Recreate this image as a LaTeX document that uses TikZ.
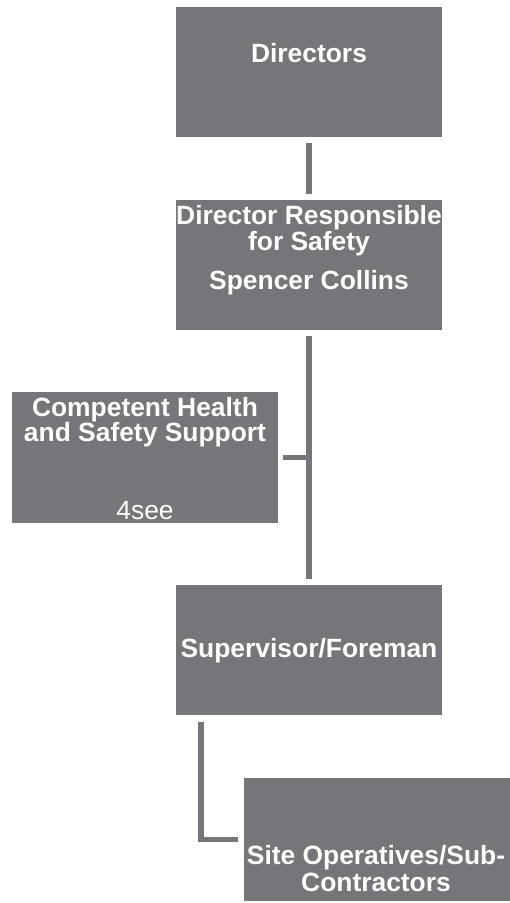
\documentclass[tikz,border=0pt]{standalone}
\usepackage{fontspec}
\setmainfont{Liberation Sans}
\definecolor{boxgray}{HTML}{76767A}
\begin{document}
\begin{tikzpicture}[x=1pt,y=-1pt,
  orgbox/.style={fill=boxgray, draw=none, minimum width=266pt, inner sep=0pt, anchor=north west},
  lbl/.style={text=white, font=\fontsize{26.4}{29}\selectfont\bfseries, anchor=base, inner sep=0pt},
  lblreg/.style={text=white, font=\fontsize{26.4}{29}\selectfont, anchor=base, inner sep=0pt},
  link/.style={draw=boxgray, line width=5.5pt}]
\useasboundingbox (0,0) rectangle (510,903);
\node[orgbox, minimum height=130pt] (dir) at (176,7) {};
\node[orgbox, minimum height=130pt] (drs) at (176,200) {};
\node[orgbox, minimum height=131pt] (chs) at (12,392) {};
\node[orgbox, minimum height=130pt] (sup) at (176,585) {};
\node[orgbox, minimum height=123pt] (site) at (244,778) {};
\node[lbl] (tdir) at (309,62) {Directors};
\node[lbl] (tdrs1) at (309,224) {Director Responsible};
\node[lbl] (tdrs2) at (309,250) {for Safety};
\node[lbl] (tdrs3) at (309,289) {Spencer Collins};
\node[lbl] (tchs1) at (145,416) {Competent Health};
\node[lbl] (tchs2) at (145,441) {and Safety Support};
\node[lblreg] (tchs3) at (145,519) {4see};
\node[lbl] (tsup) at (309,657) {Supervisor/Foreman};
\node[lbl] (tsite1) at (376,864) {Site Operatives/Sub-};
\node[lbl] (tsite2) at (376,891) {Contractors};
\draw[link] ([yshift=-6pt]dir.south) -- ([yshift=6pt]drs.north);
\draw[link] ([yshift=-6pt]drs.south) -- ([yshift=6pt]sup.north);
\draw[link] ([xshift=5pt]chs.east) -- (chs.east -| drs.south);
\draw[link] ([xshift=25pt,yshift=-6.5pt]sup.south west) |- ([xshift=-6pt]site.west);
\end{tikzpicture}
\end{document}
